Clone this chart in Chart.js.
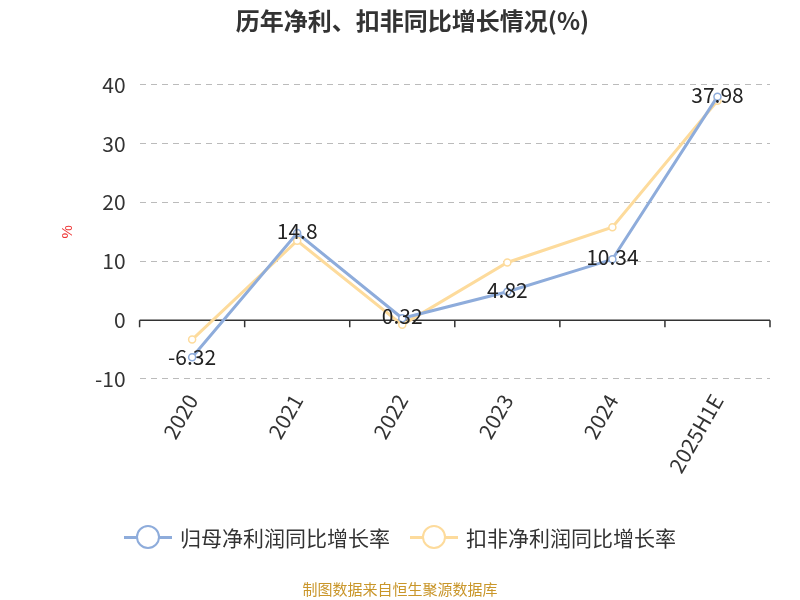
<!DOCTYPE html>
<html><head><meta charset="utf-8">
<script src="https://cdn.jsdelivr.net/npm/chart.js@4/dist/chart.umd.min.js"></script>
<style>body{margin:0;background:#fff}#w{width:800px;height:600px;position:relative}
#src{position:absolute;left:0;width:800px;top:578px;text-align:center;font:15px "Noto Sans CJK SC";color:#c9962a}
#lg{position:absolute;left:0;width:800px;top:522px;text-align:center;font:21px "Noto Sans CJK SC";color:#333}
.it{display:inline-flex;align-items:center;margin:0 10px}
.mk{position:relative;width:48px;height:30px;margin-right:8px}
.mk i{position:absolute;left:0;right:0;top:14px;height:3px}
.mk b{position:absolute;left:12px;top:3px;width:20px;height:20px;border-radius:50%;background:#fff;border:2px solid}</style>
</head><body><div id="w"><canvas id="c" width="800" height="600"></canvas>
<div id="lg"></div>
<div id="src">制图数据来自恒生聚源数据库</div></div>
<script>
const categories = ["2020", "2021", "2022", "2023", "2024", "2025H1E"];
const netProfit = [-6.32, 14.8, 0.32, 4.82, 10.34, 37.98];
const deducted = [-3.3, 13.5, -0.8, 9.8, 15.8, 37.3];
const yTicks = [-10, 0, 10, 20, 30, 40];
const names = ["归母净利润同比增长率", "扣非净利润同比增长率"];
const colors = ["#8eacdb", "#fddb9c"];

document.getElementById("lg").innerHTML = names.map((n, i) =>
  `<span class="it"><span class="mk"><i style="background:${colors[i]}"></i><b style="border-color:${colors[i]}"></b></span>${n}</span>`).join("");

const F = "'Noto Sans CJK SC', 'Noto Sans', sans-serif";
const extras = {
  id: "extras",
  beforeDatasetsDraw(chart) {
    const ctx = chart.ctx, x = chart.scales.x, y = chart.scales.y, y0 = y.getPixelForValue(0);
    ctx.save(); ctx.strokeStyle = "#333"; ctx.lineWidth = 1.5;
    ctx.beginPath(); ctx.moveTo(x.left, y0); ctx.lineTo(x.right, y0);
    for (let i = 0; i <= categories.length; i++) {
      const px = x.left + (x.right - x.left) * i / categories.length;
      ctx.moveTo(px, y0); ctx.lineTo(px, y0 + 7);
    }
    ctx.stroke(); ctx.restore();
  },
  afterDatasetsDraw(chart) {
    const ctx = chart.ctx, meta = chart.getDatasetMeta(0);
    ctx.save(); ctx.font = "21px " + F; ctx.fillStyle = "#222"; ctx.textAlign = "center"; ctx.textBaseline = "middle";
    meta.data.forEach((p, i) => ctx.fillText(String(netProfit[i]), p.x, p.y + (netProfit[i] < 0 ? 0 : -2)));
    ctx.restore();
  }
};
new Chart(document.getElementById("c"), {
  type: "line",
  data: { labels: categories, datasets: [
    { label: names[0], data: netProfit, borderColor: colors[0], backgroundColor: "#fff", borderWidth: 3, pointRadius: 3.5, pointBorderWidth: 1.5, tension: 0 },
    { label: names[1], data: deducted, borderColor: colors[1], backgroundColor: "#fff", borderWidth: 3, pointRadius: 3.5, pointBorderWidth: 1.5, tension: 0 },
  ] },
  options: {
    responsive: false, animation: false,
    layout: { padding: { left: 55, right: 30, top: 0, bottom: 120 } },
    plugins: {
      title: { display: true, text: "历年净利、扣非同比增长情况(%)", font: { family: F, size: 24, weight: "bold" }, color: "#333", padding: { top: 6, bottom: 50 } },
      legend: { display: false },
    },
    scales: {
      x: { offset: true, grid: { display: false }, border: { display: false },
        ticks: { font: { family: F, size: 21 }, color: "#333", maxRotation: 60, minRotation: 60 } },
      y: { min: -10, max: 40, afterBuildTicks: (a) => { a.ticks = yTicks.map(v => ({ value: v })); },
        grid: { color: "#bbb", drawTicks: false }, border: { display: false, dash: [6, 5] },
        ticks: { font: { family: F, size: 21 }, color: "#333", padding: 14 },
        title: { display: true, text: "%", color: "#e33", font: { size: 15 } } },
    },
  },
  plugins: [extras],
});
</script></body></html>
